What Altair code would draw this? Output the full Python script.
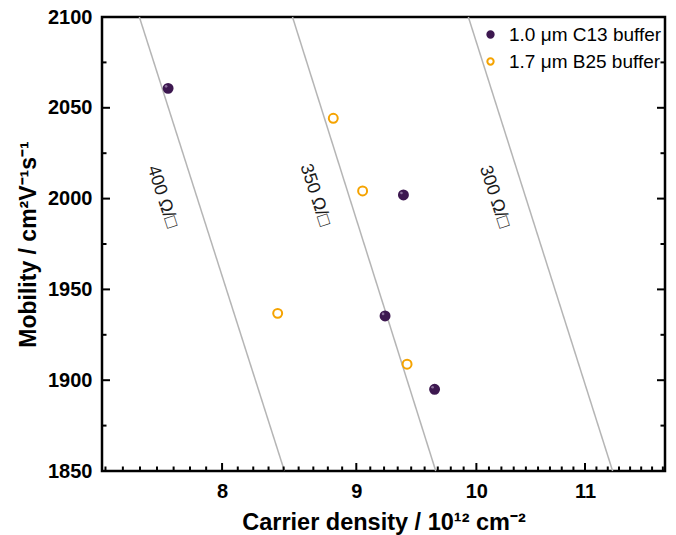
import altair as alt
import pandas as pd

# ---------------- data ----------------
series_names = ["1.0 μm C13 buffer", "1.7 μm B25 buffer"]
c13_density = [7.63, 9.38, 9.23, 9.64]
c13_mobility = [2060.7, 2002.0, 1935.4, 1895.0]
b25_density = [8.82, 9.05, 8.40, 9.41]
b25_mobility = [2044.2, 2004.2, 1936.8, 1908.8]

res_labels = ["400 Ω/□", "350 Ω/□", "300 Ω/□"]
res_mobility_ends = [2100, 1850]
res_density_top = [7.44, 8.51, 9.93]      # density where each line meets mobility 2100
res_density_bottom = [8.45, 9.65, 11.27]  # density where each line meets mobility 1850
label_density = [7.59, 8.68, 10.16]
label_mobility = [2001, 2002, 2001]

x_domain = [7.2, 11.8]
y_domain = [1850, 2100]
x_major = [8, 9, 10, 11]
x_minor = [7.222, 7.333, 7.444, 7.556, 7.667, 7.778, 7.889,
           8.111, 8.222, 8.333, 8.444, 8.556, 8.667, 8.778, 8.889,
           9.111, 9.222, 9.333, 9.444, 9.556, 9.667, 9.778, 9.889,
           10.111, 10.222, 10.333, 10.444, 10.556, 10.667, 10.778, 10.889,
           11.111, 11.222, 11.333, 11.444, 11.556, 11.667, 11.778]
y_major = [1850, 1900, 1950, 2000, 2050, 2100]
y_minor = [1875, 1925, 1975, 2025, 2075]

# ---------------- tables ----------------
points = pd.DataFrame({
    "n": c13_density + b25_density,
    "mu": c13_mobility + b25_mobility,
    "series": [series_names[0]] * len(c13_density) + [series_names[1]] * len(b25_density),
})
c13 = pd.DataFrame({"n": c13_density, "mu": c13_mobility})
lines_rows = []
for lab, top, bot in zip(res_labels, res_density_top, res_density_bottom):
    lines_rows.append({"label": lab, "n": top, "mu": res_mobility_ends[0]})
    lines_rows.append({"label": lab, "n": bot, "mu": res_mobility_ends[1]})
lines = pd.DataFrame(lines_rows)
labels = pd.DataFrame({"label": res_labels, "n": label_density, "mu": label_mobility})
xmaj = pd.DataFrame({"n": x_major})
xmin = pd.DataFrame({"n": x_minor})
ymaj = pd.DataFrame({"mu": y_major})
ymin = pd.DataFrame({"mu": y_minor})

# ---------------- styling ----------------
W, H = 563, 454
FONT = "Liberation Sans"
PURPLE = "#3d1850"
HILITE = "#8a6f9a"
ORANGE = "#f5a300"
GRAY = "#b5b5b5"

xscale = alt.Scale(type="log", domain=x_domain, nice=False, zero=False)
yscale = alt.Scale(domain=y_domain, nice=False, zero=False)

xaxis = alt.Axis(values=x_major, format="d", ticks=False, tickSize=0, domain=False, grid=False,
                 labelFont=FONT, labelFontSize=20, labelFontWeight="bold", labelColor="black",
                 labelBaseline="alphabetic", labelPadding=26,
                 title="Carrier density / 10¹² cm⁻²", titleFont=FONT, titleFontSize=23.5,
                 titleFontWeight="bold", titleColor="black", titleBaseline="alphabetic",
                 titleY=58)
yaxis = alt.Axis(values=y_major, format="d", ticks=False, tickSize=0, domain=False, grid=False,
                 labelFont=FONT, labelFontSize=20, labelFontWeight="bold", labelColor="black",
                 labelPadding=10,
                 title="Mobility / cm²V⁻¹s⁻¹", titleFont=FONT, titleFontSize=23,
                 titleFontWeight="bold", titleColor="black", titleBaseline="alphabetic",
                 titleX=-67)


def X(field="n"):
    return alt.X(f"{field}:Q", scale=xscale, axis=xaxis)


def Y(field="mu"):
    return alt.Y(f"{field}:Q", scale=yscale, axis=yaxis)


leg = alt.Legend(orient="none", legendX=379, legendY=8, padding=0,
                 labelFont=FONT, labelFontSize=19, labelColor="black",
                 labelOffset=9, rowPadding=7, symbolSize=40, symbolStrokeWidth=2,
                 symbolType="circle")

base_lines = alt.Chart(lines).mark_line(color=GRAY, strokeWidth=1.5).encode(
    x=X(), y=Y(), detail="label:N"
)
base_text = alt.Chart(labels).mark_text(angle=72, font=FONT, fontSize=18, color="#1a1a1a").encode(
    x=X(), y=Y(), text="label:N"
)
pts = alt.Chart(points).mark_point(size=80, strokeWidth=2, opacity=1, fillOpacity=1).encode(
    x=X(), y=Y(),
    fill=alt.Fill("series:N", scale=alt.Scale(domain=series_names, range=[PURPLE, "transparent"]),
                  legend=leg, title=None),
    stroke=alt.Stroke("series:N", scale=alt.Scale(domain=series_names, range=[PURPLE, ORANGE]),
                      legend=leg, title=None),
)
# small highlight giving the filled markers their ball-like look
hilite = alt.Chart(c13).mark_circle(size=7, color=HILITE, opacity=1, xOffset=-2, yOffset=-2).encode(
    x=X(), y=Y()
)

# inward tick marks on left, right and bottom edges
MAJ, MIN = 8, 4.5
TK = dict(color="black", strokeWidth=2, opacity=1)
left_major = alt.Chart(ymaj).mark_rule(**TK).encode(y=Y(), x=alt.value(0), x2=alt.value(MAJ))
left_minor = alt.Chart(ymin).mark_rule(**TK).encode(y=Y(), x=alt.value(0), x2=alt.value(MIN))
right_major = alt.Chart(ymaj).mark_rule(**TK).encode(y=Y(), x=alt.value(W - MAJ), x2=alt.value(W))
right_minor = alt.Chart(ymin).mark_rule(**TK).encode(y=Y(), x=alt.value(W - MIN), x2=alt.value(W))
bottom_major = alt.Chart(xmaj).mark_rule(**TK).encode(x=X(), y=alt.value(H - MAJ), y2=alt.value(H))
bottom_minor = alt.Chart(xmin).mark_rule(**TK).encode(x=X(), y=alt.value(H - MIN), y2=alt.value(H))

chart = alt.layer(
    base_lines, base_text, pts, hilite,
    left_major, left_minor, right_major, right_minor, bottom_major, bottom_minor,
).properties(
    width=W, height=H, autosize="none",
    padding={"left": 102, "top": 17, "right": 11, "bottom": 64},
    background="white",
).configure_view(
    stroke="black", strokeWidth=2.5
)

chart.save("out.html", embed_options={"renderer": "svg", "actions": False})
